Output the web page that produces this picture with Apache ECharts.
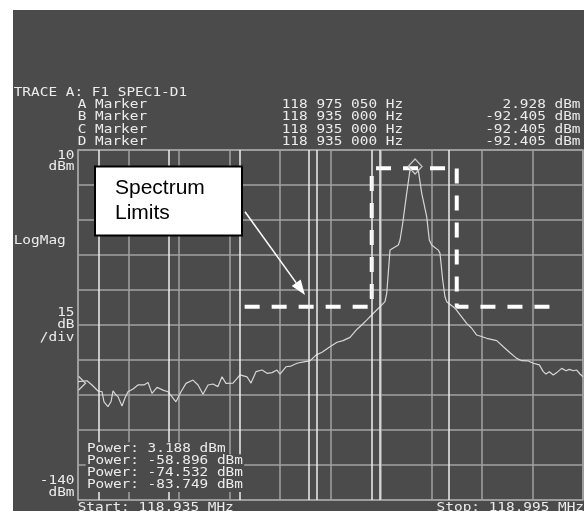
<!DOCTYPE html>
<html>
<head>
<meta charset="utf-8">
<script src="https://cdn.jsdelivr.net/npm/echarts@6/dist/echarts.min.js"></script>
<style>
html,body{margin:0;padding:0;background:#fff;}
#chart{width:584px;height:511px;}
</style>
</head>
<body>
<div id="chart"></div>
<script>
// ---- data (frequency offset from start 118.935 MHz in kHz, level in dBm) ----
const freqKHz = [0,1.07,1.66,2.38,2.85,3.09,3.56,3.92,4.16,4.51,4.75,5.23,5.58,5.94,6.53,7.13,7.84,8.32,8.79,9.39,10.10,10.69,11.64,12.24,12.83,13.66,14.26,14.85,15.45,16.04,16.63,17.11,17.58,18.42,19.25,20.08,20.55,21.15,21.86,22.46,23.05,23.64,24.00,24.71,25.31,26.02,26.97,27.56,28.28,28.99,29.94,30.77,31.49,32.32,33.15,33.71,34.30,34.89,35.88,36.47,36.68,37.07,37.27,38.06,38.26,38.58,39.05,39.36,39.45,39.84,40.05,40.43,40.84,41.43,41.74,42.02,42.81,43.01,43.33,43.60,43.80,44.79,46.18,46.78,47.37,47.76,48.56,49.75,50.53,51.33,52.12,52.72,53.50,54.10,54.81,55.28,55.60,56.00,56.47,56.88,57.47,57.98,58.37,58.85,59.25,59.64,60];
const levelDbm = [-89.3,-88.9,-90.7,-93.3,-93.6,-97.9,-100.0,-97.9,-93.2,-95.0,-95.7,-99.7,-96.3,-93.6,-92.4,-90.7,-90.7,-89.6,-94.3,-91.7,-92.9,-93.6,-97.9,-93.6,-90.0,-88.6,-90.7,-94.7,-90.7,-90.3,-91.4,-87.2,-90.0,-89.9,-86.4,-87.2,-89.9,-85.0,-84.3,-85.7,-85.4,-84.3,-86.1,-82.9,-82.6,-81.4,-80.7,-80.4,-77.9,-76.7,-74.3,-72.4,-71.7,-70.3,-66.8,-65.0,-62.9,-60.7,-57.2,-55.0,-51.4,-32.9,-32.1,-30.7,-28.6,-21.4,-8.6,-0.7,1.4,2.2,2.928,1.4,-8.6,-18.6,-28.6,-30.7,-32.9,-34.3,-45.7,-52.9,-55.0,-57.8,-64.3,-66.4,-69.3,-69.7,-70.7,-71.7,-74.3,-76.9,-79.3,-80.3,-80.4,-81.4,-82.1,-85.0,-86.0,-85.0,-86.4,-85.4,-83.6,-84.6,-84.0,-84.6,-84.3,-86.0,-87.2];
const limitFreqKHz = [19.8,34.9,34.9,45.0,45.0,56.5];
const limitDbm = [-57.2,-57.2,2.2,2.2,-57.2,-57.2];
const bandLinesKHz = [2.5,10.8,19.2,27.4,28.4,34.9,35.9,44.1];
const markerAKHz = 40.05;
const markerADbm = 2.928;
const refMarkerDbm = -90;
const markerNames = ['A Marker','B Marker','C Marker','D Marker'];
const markerFreqs = ['118 975 050 Hz','118 935 000 Hz','118 935 000 Hz','118 935 000 Hz'];
const markerLevels = ['2.928 dBm','-92.405 dBm','-92.405 dBm','-92.405 dBm'];
const powerValues = ['3.188 dBm','-58.896 dBm','-74.532 dBm','-83.749 dBm'];
const xMinKHz = 0, xMaxKHz = 60, xStepKHz = 6;
const yMin = -140, yMax = 10, yStep = 15;

// ---- build ----
const trace = freqKHz.map((f,i)=>[f, levelDbm[i]]);
const limit = limitFreqKHz.map((f,i)=>[f, limitDbm[i]]);

const MONO = '"DejaVu Sans Mono", "Liberation Mono", monospace';
const TXT = '#ececec';
const SX = 1.2;
function t(text, x, y, align, extra){
  return Object.assign({
    type:'text', x:x, y:y, scaleX:SX, z:100,
    style:Object.assign({text:text, fill:TXT, font:'12px '+MONO, textAlign:align||'left', textVerticalAlign:'middle'}, extra||{})
  });
}
const g = [];
g.push({type:'rect', shape:{x:0,y:0,width:584,height:10}, style:{fill:'#ffffff'}, z:100});
g.push({type:'rect', shape:{x:0,y:0,width:13,height:511}, style:{fill:'#ffffff'}, z:100});
g.push(t('TRACE A: F1 SPEC1-D1', 13.7, 92.8));
const rowY = [104.5,117,129.4,141.7];
markerNames.forEach((n,i)=>{
  g.push(t(n, 77.7, rowY[i]));
  g.push(t(markerFreqs[i], 281.7, rowY[i]));
  g.push(t(markerLevels[i], 580.5, rowY[i], 'right'));
});
g.push(t('10', 74.5, 156.3, 'right'));
g.push(t('dBm', 74.5, 166.5, 'right'));
g.push(t('LogMag', 13.7, 240.5));
g.push(t('15', 74.5, 313, 'right'));
g.push(t('dB', 74.5, 325.3, 'right'));
g.push(t('/div', 74.5, 337.6, 'right'));
g.push(t('-140', 74.5, 481.2, 'right'));
g.push(t('dBm', 74.5, 492.5, 'right'));
g.push(t('Start: 118.935 MHz', 77.7, 508));
g.push(t('Stop: 118.995 MHz', 584, 508, 'right'));
const pY = [449.2,461.2,473.2,485];
powerValues.forEach((v,i)=>{
  g.push(t('Power: '+v, 85.7, pY[i], 'left', {backgroundColor:'#4b4b4b', padding:[1,1,1,1]}));
});
// callout
g.push({type:'rect', shape:{x:95,y:166.5,width:147,height:69}, style:{fill:'#ffffff', stroke:'#000000', lineWidth:2}, z:110});
g.push({type:'text', x:115, y:188.5, z:111, style:{text:'Spectrum', fill:'#000', font:'21px "Liberation Sans", Arial, sans-serif', textVerticalAlign:'middle'}});
g.push({type:'text', x:115, y:213.5, z:111, style:{text:'Limits', fill:'#000', font:'21px "Liberation Sans", Arial, sans-serif', textVerticalAlign:'middle'}});
const ax0=245, ay0=211.7, ax1=305, ay1=295;
const dx=ax1-ax0, dy=ay1-ay0, L=Math.sqrt(dx*dx+dy*dy), ux=dx/L, uy=dy/L;
const hl=15, hw=5.5;
const bx=ax1-hl*ux, by=ay1-hl*uy;
g.push({type:'line', shape:{x1:ax0,y1:ay0,x2:bx,y2:by}, style:{stroke:'#ffffff', lineWidth:1.5}, z:105});
g.push({type:'polygon', shape:{points:[[ax1,ay1],[bx-hw*uy,by+hw*ux],[bx+hw*uy,by-hw*ux]]}, style:{fill:'#ffffff'}, z:105});

const GRIDC = '#a2a2a2';
const chart = echarts.init(document.getElementById('chart'), null, {renderer:'canvas'});
chart.setOption({
  animation:false,
  backgroundColor:'#4b4b4b',
  grid:{left:78, top:150, right:1, bottom:11, show:true, borderColor:GRIDC, borderWidth:1.5, backgroundColor:'transparent'},
  xAxis:{type:'value', min:xMinKHz, max:xMaxKHz, interval:xStepKHz,
    axisLine:{show:false}, axisTick:{show:false}, axisLabel:{show:false},
    splitLine:{show:true, lineStyle:{color:GRIDC, width:1.5}}},
  yAxis:{type:'value', min:yMin, max:yMax, interval:yStep,
    axisLine:{show:false}, axisTick:{show:false}, axisLabel:{show:false},
    splitLine:{show:true, lineStyle:{color:GRIDC, width:1.5}}},
  series:[
    {type:'line', data:trace, showSymbol:false, symbol:'none', z:3,
     lineStyle:{color:'#d6d6d6', width:1.2},
     markLine:{silent:true, symbol:['none','none'], animation:false,
       label:{show:false}, lineStyle:{color:'#eeeeee', type:'solid', width:1.5},
       data:bandLinesKHz.map(v=>({xAxis:v}))},
     markPoint:{silent:true, animation:false, label:{show:false},
       data:[
         {coord:[markerAKHz, markerADbm], symbol:'diamond', symbolSize:[14,15],
          itemStyle:{color:'rgba(0,0,0,0)', borderColor:'#c8c8c8', borderWidth:1.2}},
         {coord:[xMinKHz, refMarkerDbm], symbol:'path://M0,0L10,7L0,14', symbolSize:[7,14], symbolOffset:[4,0],
          itemStyle:{color:'rgba(0,0,0,0)', borderColor:'#d0d0d0', borderWidth:1.2}}
       ]}
    },
    {type:'line', data:limit, showSymbol:false, symbol:'none', z:4,
     lineStyle:{color:'#ffffff', width:4, type:[15,12], cap:'butt'}}
  ],
  graphic:{elements:g}
});
</script>
</body>
</html>
